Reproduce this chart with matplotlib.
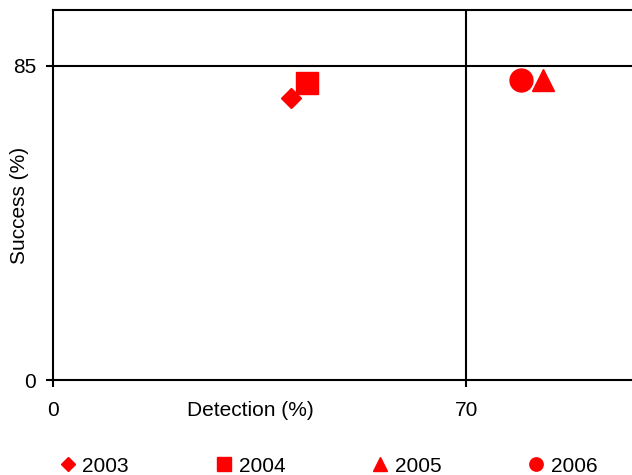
import matplotlib
matplotlib.use("Agg")
import matplotlib.pyplot as plt
from matplotlib.lines import Line2D

plt.rcParams['font.family'] = ['Liberation Sans', 'DejaVu Sans']

years = ['2003', '2004', '2005', '2006']
detection = [40.3, 43.0, 83.0, 79.3]
success = [76.2, 80.2, 81.1, 81.1]
markers = ['D', 's', '^', 'o']
sizes = [10.5, 15.5, 15.5, 16.5]
leg_sizes = [7.0, 10.0, 9.5, 9.6]
x_ticks = [0, 70]
y_ticks = [0, 85]
FS = 15

fig = plt.figure(figsize=(6.32, 4.75), dpi=100)
ax = fig.add_axes([53/632, 1 - 380/475, (632 - 53)/632, 370/475])
ax.set_xlim(0, 98.1)
ax.set_ylim(0, 100)

ax.axhline(85, color='black', lw=1.5, zorder=1)
ax.axvline(70, color='black', lw=1.5, zorder=1)

for x, y, m, s in zip(detection, success, markers, sizes):
    ax.plot([x], [y], marker=m, ms=s, color='red', mec='red', ls='none', zorder=3)

for side in ['left', 'bottom', 'top']:
    ax.spines[side].set_linewidth(1.5)
    ax.spines[side].set_color('black')
ax.spines['right'].set_visible(False)

ax.set_xticks(x_ticks)
ax.set_yticks(y_ticks)
ax.tick_params(axis='both', direction='out', length=5, width=1.5, labelsize=FS)
ax.tick_params(axis='x', pad=10)
ax.tick_params(axis='y', pad=7)

ax.set_xlabel('Detection (%)', fontsize=FS)
ax.xaxis.set_label_coords((250 - 53) / 579, (380 - 411) / 370)
ax.xaxis.label.set_va('center')
ax.set_ylabel('Success (%)', fontsize=FS)
ax.yaxis.set_label_coords((20 - 53) / 579, (380 - 205) / 370)
ax.yaxis.label.set_va('center')

handles = [Line2D([], [], marker=m, ms=s, color='red', ls='none') for m, s in zip(markers, leg_sizes)]
fig.legend(handles, years, loc='center', bbox_to_anchor=(328.5/632, 1 - 466/475), ncol=4,
           frameon=False, fontsize=FS, handlelength=0.8, handletextpad=0.31,
           columnspacing=4.15, borderpad=0)

fig.savefig('out.png', dpi=100)
